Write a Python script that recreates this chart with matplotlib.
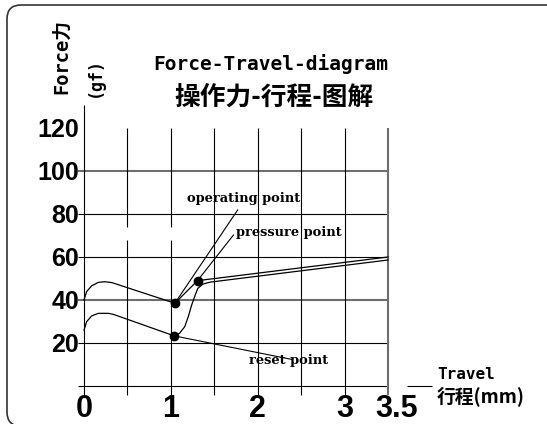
import matplotlib
matplotlib.use('Agg')
import matplotlib.pyplot as plt
from matplotlib.patches import FancyBboxPatch

W, H = 547, 424

# press stroke (upper branch), travel mm / force gf
press_x = [0, 0.03, 0.088, 0.165, 0.24, 0.32, 1.046, 1.307, 3.5]
press_y = [40, 43.9, 46.6, 48.2, 48.5, 48.1, 38.5, 49.0, 60.0]

# return stroke (lower branch)
ret_x = [0, 0.03, 0.088, 0.165, 0.28, 0.34, 1.04, 1.10, 1.16, 1.20, 1.24,
         1.28, 1.31, 1.37, 1.45, 3.5]
ret_y = [26, 29.9, 32.6, 33.8, 33.8, 33.3, 23.3, 24.5, 27.6, 32.2, 37.7,
         42.3, 45.4, 47.4, 48.3, 58.6]

point_names = ['operating point', 'pressure point', 'reset point']
point_x = [1.046, 1.307, 1.04]
point_y = [38.5, 49.0, 23.3]
leader_x = [1.77, 1.72, 2.40]
leader_y = [81.9, 70.2, 12.3]
label_x = [1.184, 1.747, 1.897]
label_y = [87.4, 71.6, 11.8]

yticks = [20, 40, 60, 80, 100, 120]
xticks = [0, 1, 2, 3, 3.5]
xtick_labels = ['0', '1', '2', '3', '3.5']
hgrid = [0, 20, 40, 60, 80, 100]
vgrid = [0.5, 1.0, 1.5, 2.0, 2.5, 3.0, 3.5]


def fx(x):
    return x / W


def fy(y):
    return 1 - y / H


fig = plt.figure(figsize=(W / 100, H / 100), dpi=100)

# rounded frame round the whole picture (right side runs off the canvas)
frame = FancyBboxPatch((0.07, -0.02), 5.75, 4.21,
                       boxstyle='round,pad=0,rounding_size=0.14',
                       transform=fig.dpi_scale_trans, fill=False,
                       edgecolor='#333333', linewidth=1.2)
fig.patches.append(frame)

ax = fig.add_axes([fx(84), 38 / H, 304 / W, 258 / H])
ax.set_xlim(0, 3.5)
ax.set_ylim(0, 120)
ax.axis('off')

k = dict(clip_on=False, solid_capstyle='butt')
for y in hgrid:
    if y in (40, 100):
        ax.plot([-0.07, 3.5], [y, y], color='#6e6e6e', lw=1.5, **k)
    else:
        ax.plot([-0.07, 3.5], [y, y], color='black', lw=0.8, **k)
for x in vgrid:
    if x in (0.5, 1.0):
        ax.plot([x, x], [-4.2, 68], color='black', lw=0.8, **k)
        ax.plot([x, x], [74, 120], color='black', lw=0.8, **k)
    elif x == 3.5:
        ax.plot([x, x], [-4.2, 120], color='#6e6e6e', lw=1.5, **k)
    else:
        ax.plot([x, x], [-4.2, 120], color='black', lw=0.8, **k)
ax.plot([0, 0], [-4.2, 130.7], color='black', lw=0.8, **k)
ax.plot([3.72, 4.01], [0, 0], color='black', lw=0.8, **k)

ax.plot(press_x, press_y, color='black', lw=0.9, clip_on=False)
ax.plot(ret_x, ret_y, color='black', lw=0.9, clip_on=False)

for i in range(len(point_names)):
    ax.plot([point_x[i], leader_x[i]], [point_y[i], leader_y[i]],
            color='black', lw=0.8, clip_on=False)
    ax.text(label_x[i], label_y[i], point_names[i], ha='left', va='center',
            family='DejaVu Serif', weight='bold', fontsize=9.4)
ax.plot(point_x, point_y, 'o', color='black', ms=6, clip_on=False)

for y in yticks:
    ax.text(-0.057, y - 4.2, str(y), ha='right', va='baseline',
            family='Liberation Sans', weight='bold', fontsize=18)
for x, lab in zip(xticks, xtick_labels):
    off = 6.5 if lab == '3.5' else 0
    ax.annotate(lab, (x, -14.6), xytext=(off, 0), textcoords='offset points',
                ha='center', va='baseline', family='Liberation Sans',
                weight='bold', fontsize=22, annotation_clip=False)

fig.text(fx(271), fy(70), 'Force-Travel-diagram', ha='center', va='baseline',
         family='DejaVu Sans Mono', weight='bold', fontsize=14)
fig.text(fx(274), fy(97), '操作力-行程-图解', ha='center', va='center',
         family='Noto Sans CJK SC', weight='bold', fontsize=18.5)
fig.text(fx(62), fy(57), 'Force力', ha='center', va='center', rotation=90,
         family=['DejaVu Sans Mono', 'Noto Sans CJK SC'], weight='bold',
         fontsize=13.5)
fig.text(fx(95), fy(77), '(gf)', ha='center', va='center', rotation=90,
         family='DejaVu Sans Mono', weight='bold', fontsize=12)
fig.text(fx(437), fy(379), 'Travel', ha='left', va='baseline',
         family='DejaVu Sans Mono', weight='bold', fontsize=11.5)
fig.text(fx(437), fy(396.5), '行程(mm)', ha='left', va='center',
         family='Noto Sans CJK SC', weight='bold', fontsize=13.5)

fig.savefig('out.png', dpi=100)
